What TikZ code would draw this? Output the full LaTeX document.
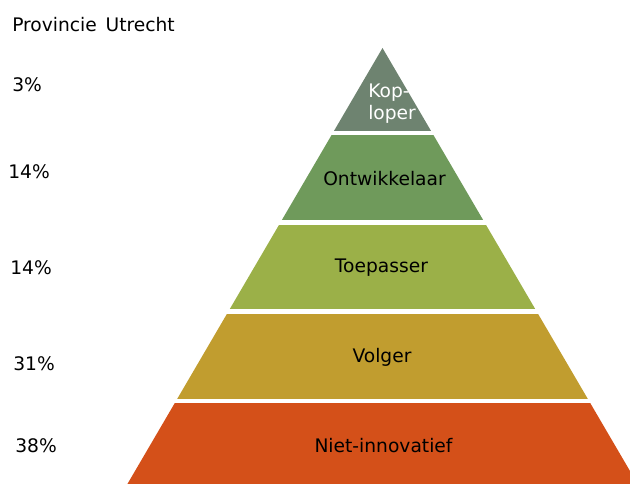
\documentclass[tikz,border=0pt]{standalone}
\usepackage{fontspec}
\setmainfont{DejaVu Sans}
\usepackage{tikz}

\definecolor{koploper}{RGB}{110,131,112}
\definecolor{ontwikkelaar}{RGB}{111,154,91}
\definecolor{toepasser}{RGB}{155,176,72}
\definecolor{volger}{RGB}{193,157,47}
\definecolor{nietinno}{RGB}{212,80,25}

\tikzset{
  lbl/.style={inner sep=0pt, font=\fontsize{14}{16.5}\selectfont},
  pct/.style={lbl, anchor=west},
}

\begin{document}
\begin{tikzpicture}[x=0.75pt,y=-0.75pt]
  \useasboundingbox (0,0) rectangle (630,484);
  % pyramid: bands clipped out of one triangle
  \begin{scope}
    \clip (0,0) rectangle (630,484);
    \clip (382.5,48) -- (641.1,490) -- (123.9,490) -- cycle;
    \fill[koploper]     (100,40)  rectangle (660,131);
    \fill[ontwikkelaar] (100,135) rectangle (660,220);
    \fill[toepasser]    (100,225) rectangle (660,309);
    \fill[volger]       (100,314) rectangle (660,399);
    \fill[nietinno]     (100,403) rectangle (660,490);
  \end{scope}

  % band labels
  \node[lbl, anchor=west, align=left, text=white] (kop) at (368,104) {Kop-\\loper};
  \node[lbl] (ontw) at (384.5,179) {Ontwikkelaar};
  \node[lbl] (toep) at (381.5,268) {Toepasser};
  \node[lbl] (volg) at (382,357) {Volger};
  \node[lbl] (niet) at (383.5,446) {Niet-innovatief};

  % title and shares
  \node[pct] (title) at (12,25) {Provincie\hspace{0.15em} Utrecht};
  \node[pct] (p1) at (12,85)  {3\%};
  \node[pct] (p2) at (8,172)  {14\%};
  \node[pct] (p3) at (10,268) {14\%};
  \node[pct] (p4) at (13,364) {31\%};
  \node[pct] (p5) at (15,446) {38\%};
\end{tikzpicture}
\end{document}
